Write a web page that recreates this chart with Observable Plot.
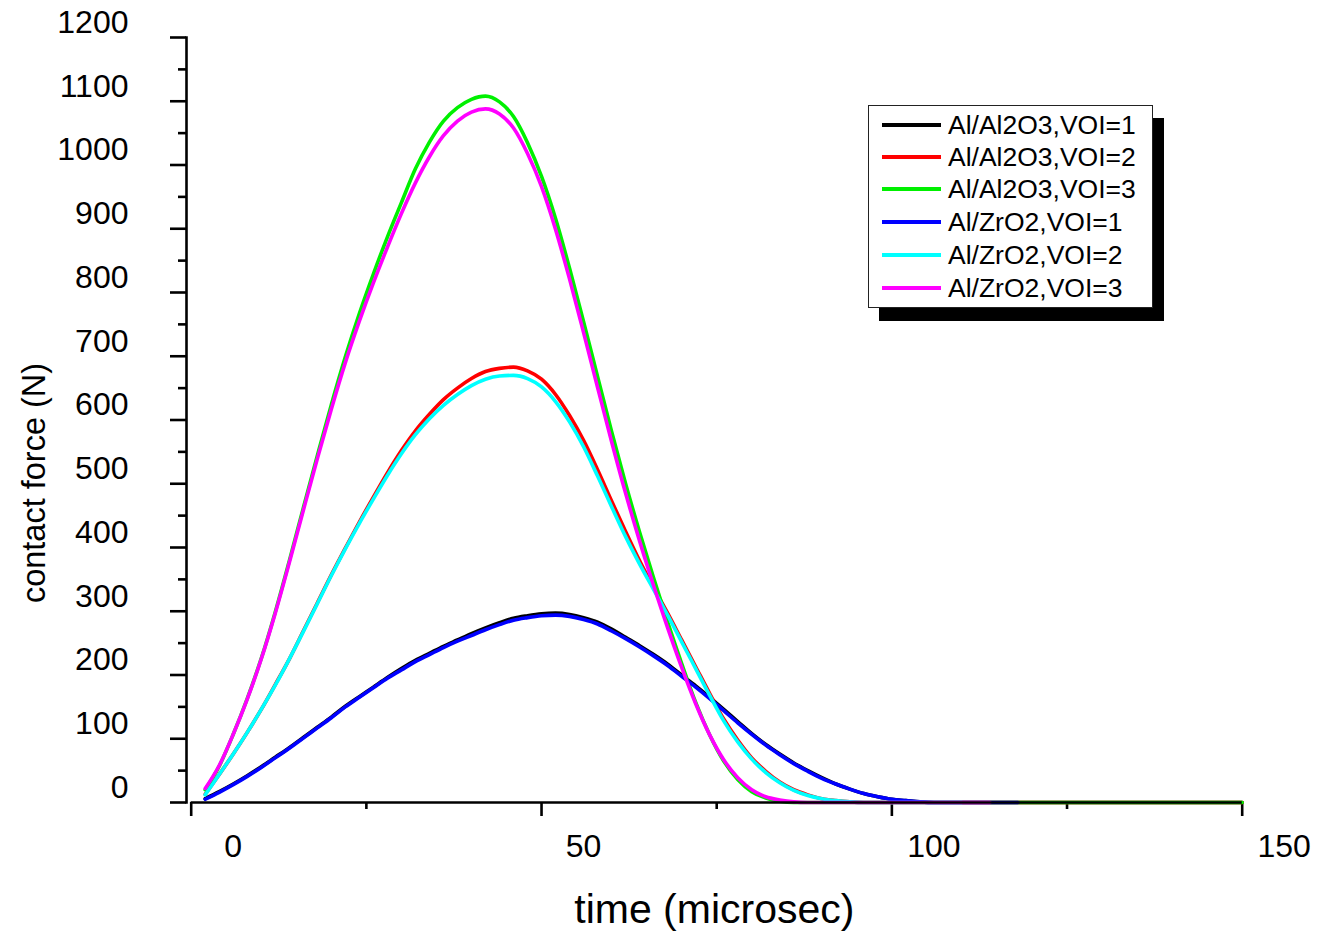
<!DOCTYPE html>
<html>
<head>
<meta charset="utf-8">
<script src="https://cdn.jsdelivr.net/npm/d3@7"></script>
<script src="https://cdn.jsdelivr.net/npm/@observablehq/plot@0.6"></script>
<style>
  body { margin: 0; background: #fff; }
  #wrap { position: relative; width: 1333px; height: 936px; font-family: "Liberation Sans", Arial, sans-serif; }
  #legend { position: absolute; left: 868px; top: 105px; width: 283px; height: 201px; border: 1px solid #222; background: #fff; box-shadow: 11px 13px 0 #000; }
  .row { position: absolute; left: 0; height: 32px; white-space: nowrap; }
  .swatch { position: absolute; left: 13px; width: 59px; height: 4px; }
  .lab { position: absolute; left: 79px; font-size: 26.5px; color: #000; line-height: 32px; top: 0; }
</style>
</head>
<body>
<div id="wrap"><div id="chart"></div><div id="legend"></div></div>
<script>
// ---- data ----
const seriesNames = ["Al/Al2O3,VOI=1", "Al/Al2O3,VOI=2", "Al/Al2O3,VOI=3", "Al/ZrO2,VOI=1", "Al/ZrO2,VOI=2", "Al/ZrO2,VOI=3"];
const seriesColors = ["#000000", "#ff0000", "#00f000", "#0000ff", "#00ffff", "#ff00ff"];

const time = [2,4,6,8,10,12,14,16,18,20,
              22,24,26,28,30,32,34,36,38,40,
              42,44,46,48,50,52,54,56,58,60,
              62,64,66,68,70,72,74,76,78,80,
              82,84,86,88,90,92,94,96,98,100,
              102,104,106,108,110,114,118,150];

const alAl2o3Voi1 = [6,17,29,42,56,71,86,102,118,134,
                     151,166,181,196,210,223,234,245,255,265,
                     274,282,289,293,296,297,295,290,283,272,
                     259,246,232,217,200,183,165,146,127,108,
                     91,76,62,50,39,29,21,14,9,5,
                     3,1,0,0,0,0,0,0];
const alAl2o3Voi2 = [13,44,76,110,146,185,225,269,313,357,
                     399,440,479,517,552,583,609,632,650,665,
                     676,681,683,677,664,640,607,568,522,473,
                     425,379,337,297,255,213,171,131,98,70,
                     49,32,20,12,6,3,1,0,0,0,
                     0,0,0,0,0,0,0,0];
const alAl2o3Voi3 = [20,57,107,163,226,299,379,462,544,624,
                     699,767,829,887,941,994,1036,1069,1090,1103,
                     1108,1099,1076,1035,982,916,838,754,668,582,
                     500,424,352,283,218,157,106,65,36,17,
                     7,2,0,0,0,0,0,0,0,0,
                     0,0,0,0,0,0,0,0];
const alZro2Voi1 = [5,16,28,41,55,70,85,101,117,133,
                    150,165,180,195,208,221,232,243,253,262,
                    271,279,286,290,293,294,292,287,280,269,
                    257,244,230,215,198,181,163,144,125,107,
                    90,75,61,49,38,29,21,14,9,5,
                    3,1,0,0,0,0,0,null];
const alZro2Voi2 = [12,44,76,110,146,184,225,268,312,356,
                    398,438,476,513,547,577,602,623,640,654,
                    664,669,670,665,652,629,597,558,512,464,
                    417,374,334,294,252,210,168,128,95,68,
                    47,31,19,11,6,3,1,0,0,0,
                    0,0,0,0,0,null,null,null];
const alZro2Voi3 = [22,58,107,162,225,297,376,458,539,617,
                    690,755,815,871,924,972,1013,1046,1069,1083,
                    1088,1080,1058,1018,966,899,821,737,651,566,
                    485,410,340,274,212,155,106,67,39,20,
                    9,4,1,0,0,0,0,0,0,0,
                    0,0,0,0,0,0,null,null];

const seriesValues = [alAl2o3Voi1, alAl2o3Voi2, alAl2o3Voi3, alZro2Voi1, alZro2Voi2, alZro2Voi3];

const yMajor = [0,100,200,300,400,500,600,700,800,900,1000,1100,1200];
const yMinor = [50,150,250,350,450,550,650,750,850,950,1050,1150];
const xMajor = [0,50,100,150];
const xMinor = [25,75,125];
const yTickLabels = yMajor;
const xTickLabels = xMajor;
const xTitle = "time (microsec)";
const yTitle = "contact force (N)";

// ---- build ----
const font = '"Liberation Sans", Arial, sans-serif';
const lineMarks = seriesNames.map((name, k) => {
  const rows = time.map((t, i) => ({t, F: seriesValues[k][i], s: name})).filter(d => d.F != null);
  return Plot.line(rows, {x: "t", y: "F", stroke: seriesColors[k], strokeWidth: 3.6, strokeLinejoin: "round", curve: "monotone-x"});
});

const chart = Plot.plot({
  width: 1333,
  height: 936,
  marginLeft: 186,
  marginRight: 91.3,
  marginTop: 37,
  marginBottom: 134,
  x: {domain: [0, 150], range: [190.7, 1241.7]},
  y: {domain: [0, 1200], range: [802, 37]},
  style: {fontFamily: font, background: "#fff", color: "#000", overflow: "visible"},
  marks: [
    Plot.frame({anchor: "left", strokeWidth: 2.6}),
    Plot.axisY(yMajor, {tickSize: 16, fill: "none", strokeWidth: 2.6, label: null}),
    Plot.axisY(yMinor, {tickSize: 8, fill: "none", strokeWidth: 2.6, label: null}),
    Plot.axisX(xMajor, {tickSize: 14, fill: "none", strokeWidth: 2.6, label: null}),
    Plot.axisX(xMinor, {tickSize: 7, fill: "none", strokeWidth: 2.6, label: null}),
    ...lineMarks,
    Plot.ruleY([0], {x1: 0, x2: 150, strokeWidth: 2.4, stroke: "#000"}),
    Plot.text(yTickLabels, {y: d => d, text: d => String(d), frameAnchor: "left", textAnchor: "end", lineAnchor: "middle", dx: -58, dy: -15, fontSize: 32, fill: "#000"}),
    Plot.text(xTickLabels, {x: d => d, text: d => String(d), frameAnchor: "bottom", textAnchor: "middle", lineAnchor: "middle", dx: 42, dy: 44, fontSize: 32, fill: "#000"}),
    Plot.text([xTitle], {text: d => d, frameAnchor: "bottom", textAnchor: "middle", lineAnchor: "middle", dy: 107, fontSize: 41, fill: "#000"}),
    Plot.text([yTitle], {text: d => d, frameAnchor: "left", textAnchor: "middle", lineAnchor: "middle", rotate: -90, dx: -152, dy: 63, fontSize: 32.5, fill: "#000"})
  ]
});
document.getElementById("chart").appendChild(chart);

// ---- legend ----
const legend = document.getElementById("legend");
const rowCenters = [125, 157, 189, 222, 255, 288];
seriesNames.forEach((name, k) => {
  const row = document.createElement("div");
  row.className = "row";
  row.style.top = (rowCenters[k] - 106 - 16) + "px";
  row.style.width = "283px";
  const sw = document.createElement("div");
  sw.className = "swatch";
  sw.style.top = "14px";
  sw.style.background = seriesColors[k];
  const lab = document.createElement("div");
  lab.className = "lab";
  lab.textContent = name;
  row.appendChild(sw);
  row.appendChild(lab);
  legend.appendChild(row);
});
</script>
</body>
</html>
